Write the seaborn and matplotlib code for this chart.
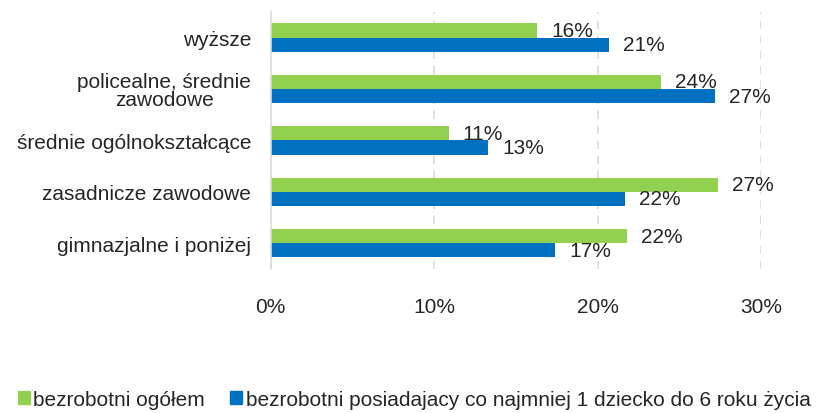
import matplotlib
matplotlib.use('Agg')
import matplotlib.pyplot as plt
import pandas as pd
import seaborn as sns
from matplotlib.patches import Patch
from matplotlib.ticker import PercentFormatter

categories = ['wyższe', 'policealne, średnie\nzawodowe', 'średnie ogólnokształcące',
              'zasadnicze zawodowe', 'gimnazjalne i poniżej']
series_names = ['bezrobotni ogółem', 'bezrobotni posiadajacy co najmniej 1 dziecko do 6 roku życia']
ogolem = [16.3, 23.9, 10.9, 27.4, 21.8]
z_dzieckiem = [20.7, 27.2, 13.3, 21.7, 17.4]
colors = ['#92D050', '#0070C0']

df = pd.DataFrame({
    'kategoria': categories * 2,
    'seria': [series_names[0]] * len(categories) + [series_names[1]] * len(categories),
    'wartosc': ogolem + z_dzieckiem,
})

sns.set_style('white')
plt.rcParams['font.family'] = ['Liberation Sans', 'DejaVu Sans']
fs = 15

fig = plt.figure(figsize=(8.28, 4.14), dpi=100)
ax = fig.add_axes([0.327, 0.348, 0.592, 0.621])

sns.barplot(data=df, y='kategoria', x='wartosc', hue='seria', orient='h',
            palette=colors, saturation=1, width=0.55, linewidth=0, legend=False, ax=ax)

for cont in ax.containers:
    vals = cont.datavalues
    ax.bar_label(cont, labels=[f'{round(v):.0f}%' for v in vals], padding=10, fontsize=fs)

ax.set_xlim(0, 30)
ax.set_xticks([0, 10, 20, 30])
ax.xaxis.set_major_formatter(PercentFormatter(decimals=0))
ax.set_xlabel('')
ax.set_ylabel('')
ax.tick_params(axis='x', length=0, pad=20, labelsize=fs)
ax.tick_params(axis='y', length=0, pad=14, labelsize=fs)
for lbl in ax.get_yticklabels():
    lbl.set_multialignment('center')
    lbl.set_linespacing(0.95)

for x in [10, 20, 30]:
    ax.axvline(x, color='#D9D9D9', linestyle=(0, (5, 4)), linewidth=1.2, zorder=0)
for s in ['top', 'right', 'bottom']:
    ax.spines[s].set_visible(False)
ax.spines['left'].set_color('#D9D9D9')
ax.spines['left'].set_linewidth(1.2)

handles = [Patch(color=c, label=n) for c, n in zip(colors, series_names)]
fig.legend(handles=handles, loc='lower center', bbox_to_anchor=(0.5, -0.035), ncol=2,
           frameon=False, fontsize=fs, handlelength=0.6, handleheight=0.6,
           handletextpad=0.15, columnspacing=1.2)

fig.savefig('out.png', dpi=100)
